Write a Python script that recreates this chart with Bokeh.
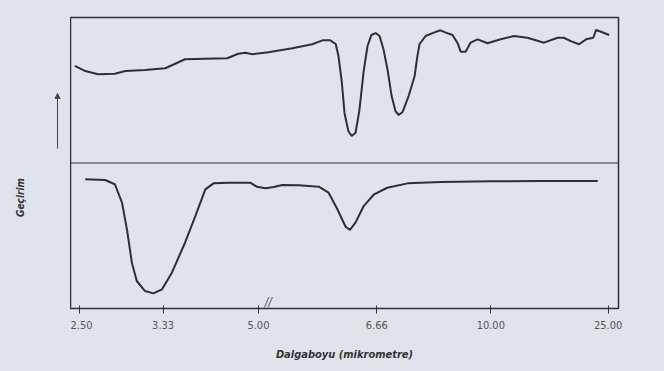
from math import pi
from bokeh.plotting import figure
from bokeh.layouts import row
from bokeh.models import (FixedTicker, Range1d, Span, Label, Arrow, NormalHead)
from bokeh.embed import file_html
from bokeh.resources import INLINE

# x is the chart's own position scale (0 = left edge, 100 = right edge);
# wavelength tick labels sit at their positions on that scale.
tick_pos = [1.6, 16.9, 34.3, 55.9, 76.7, 98.1]
tick_labels = ["2.50", "3.33", "5.00", "6.66", "10.00", "25.00"]
break_pos = 36.1

# upper spectrum: transmittance (%) of the upper panel
top_x = [0.8, 2.7, 5.0, 8.1, 10.0, 13.6, 17.3, 19.1, 20.9, 24.6, 28.6, 30.6, 31.9, 33.2,
         36.1, 40.5, 44.1, 46.0, 47.4, 48.4, 48.9, 49.5, 50.0, 50.7, 51.3, 52.0, 52.7,
         53.5, 54.2, 54.9, 55.7, 56.4, 57.1, 57.9, 58.6, 59.3, 59.9, 60.6, 61.7, 62.8,
         63.3, 63.7, 64.8, 66.3, 67.5, 68.5, 69.7, 70.6, 71.2, 72.1, 73.0, 74.3, 76.1,
         78.5, 80.9, 83.4, 86.4, 88.9, 90.0, 91.3, 92.8, 94.1, 95.4, 95.9, 96.8, 98.3]
top_t = [66.7, 63.2, 61.0, 61.4, 63.2, 63.9, 65.1, 68.2, 71.3, 71.7, 72.0, 75.1, 75.8, 74.7,
         76.1, 78.8, 81.6, 84.3, 84.3, 81.8, 73.5, 56.0, 34.4, 22.0, 18.6, 20.6, 35.7,
         63.2, 80.4, 88.0, 89.3, 87.3, 78.4, 63.2, 46.0, 35.7, 33.0, 35.1, 46.0, 59.8,
         73.5, 81.8, 87.3, 89.6, 91.2, 89.6, 88.0, 82.7, 76.5, 76.5, 82.7, 85.0, 82.3,
         85.0, 87.3, 86.1, 82.7, 86.1, 86.1, 83.8, 81.6, 85.0, 86.1, 91.4, 90.2, 88.0]

# lower spectrum: transmittance (%) of the lower panel
bot_x = [2.7, 6.3, 8.1, 9.4, 10.3, 11.2, 12.1, 13.6, 15.1, 16.7, 18.5, 20.9, 22.8, 24.6,
         26.1, 28.8, 32.8, 34.0, 35.6, 37.1, 38.6, 41.6, 45.3, 47.1, 48.7, 50.2, 51.0,
         52.0, 53.5, 55.4, 57.8, 61.5, 67.6, 76.7, 85.8, 96.2]
bot_t = [88.8, 88.3, 85.4, 72.7, 54.4, 31.5, 18.9, 12.0, 10.4, 13.2, 24.6, 45.2, 63.6, 81.9,
         86.0, 86.5, 86.5, 83.7, 82.6, 83.5, 84.9, 84.7, 83.7, 79.6, 68.2, 56.2, 54.0,
         59.0, 70.4, 78.5, 83.0, 86.0, 86.9, 87.4, 87.6, 87.6]

x_title = "Dalgaboyu (mikrometre)"
y_title = "Geçirim"

BG = "#dfe3ea"
INK = "#2f2f33"
FONT = "DejaVu Sans Condensed"

# ---- left strip: y title and the "up" arrow
# (its frame is aligned with the main frame: screen y is measured from the frame bottom)
side = figure(width=70, height=371, output_backend="svg", toolbar_location=None,
              x_axis_location=None, y_axis_location=None,
              min_border=0, min_border_left=0, min_border_right=0,
              min_border_top=0, min_border_bottom=0,
              background_fill_color=BG, border_fill_color=BG)
side.outline_line_color = None
side.grid.visible = False
side.add_layout(Label(x=20, y=111, x_units="screen", y_units="screen", text=y_title,
                      angle=pi / 2, text_align="center", text_baseline="middle",
                      text_font=FONT, text_font_style="bold italic",
                      text_font_size="10px", text_color="#333333"))
side.add_layout(Arrow(x_start=57, y_start=160, x_end=57, y_end=215,
                      start_units="screen", end_units="screen",
                      line_color="#444444", line_width=1,
                      end=NormalHead(size=5, fill_color="#444444", line_color="#444444")))

# ---- main chart
p = figure(width=594, height=371, output_backend="svg", toolbar_location=None,
           x_range=Range1d(0, 100), y_range=Range1d(0, 200),
           min_border_left=0, min_border_right=46, min_border_top=17, min_border_bottom=63,
           background_fill_color=BG, border_fill_color=BG)
p.extra_y_ranges = {"upper": Range1d(-100, 100)}

p.grid.visible = False
p.outline_line_color = INK
p.outline_line_width = 1.5

p.line(bot_x, bot_t, line_color=INK, line_width=2)
p.line(top_x, top_t, line_color=INK, line_width=2, y_range_name="upper")

p.add_layout(Span(location=100, dimension="width", line_color=INK, line_width=1.2))

xa = p.xaxis[0]
xa.ticker = FixedTicker(ticks=tick_pos)
xa.major_label_overrides = {tp: lab for tp, lab in zip(tick_pos, tick_labels)}
xa.minor_tick_line_color = None
xa.major_tick_in = 3
xa.major_tick_out = 5
xa.major_tick_line_color = INK
xa.axis_line_color = INK
xa.axis_line_width = 1.2
xa.major_label_text_font = FONT
xa.major_label_text_font_size = "11px"
xa.major_label_text_color = "#555555"
xa.major_label_standoff = 7
xa.axis_label = x_title
xa.axis_label_text_font = FONT
xa.axis_label_text_font_style = "bold italic"
xa.axis_label_text_font_size = "11px"
xa.axis_label_text_color = "#333333"
xa.axis_label_standoff = 16

p.yaxis[0].visible = False

# axis break mark
p.add_layout(Label(x=break_pos, y=0, text="//", text_align="center", text_baseline="bottom",
                   text_font=FONT, text_font_size="12px", text_color="#555555",
                   text_font_style="italic"))

layout = row(side, p, spacing=0, styles={"background-color": BG})
html = file_html(layout, INLINE)
html = html.replace("<body>", '<body style="background:%s">' % BG, 1)
html = html.replace("<html", '<html style="background:%s"' % BG, 1)
open("out.html", "w").write(html)
